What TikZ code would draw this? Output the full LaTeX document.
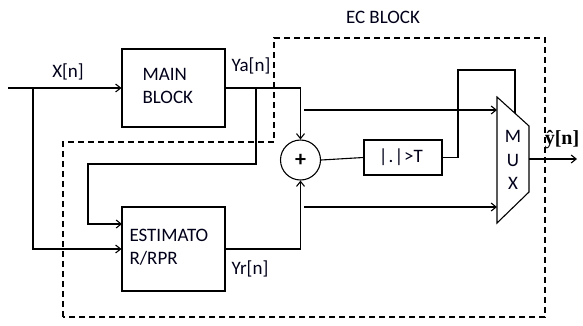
\documentclass[tikz,border=0pt]{standalone}
\usepackage{fontspec}
\setmainfont{Carlito}
\newfontfamily\hatfont{Liberation Serif}
\usetikzlibrary{arrows.meta}
\begin{document}
\begin{tikzpicture}[x=1pt,y=-1pt,line width=1.1pt,
  blk/.style={draw,minimum width=103pt,minimum height=84pt,inner sep=0pt},
  arr/.style={-{Straight Barb[length=5pt,width=8pt]}},
  lbl/.style={font=\fontsize{19}{23.5}\selectfont,inner sep=0pt,text=black!90!blue},
  ecdash/.style={dash pattern=on 6pt off 4pt,line width=1.3pt}]
\useasboundingbox (0,0) rectangle (583,325);
% blocks
\node[blk,minimum height=78pt] (main) at (173.5,88) {};
\node[lbl,anchor=west,align=left] (maint) at (142,86) {MAIN\\BLOCK};
\node[blk] (est) at (173.5,249) {};
\node[lbl,anchor=west,align=left] (estt) at (129,247) {ESTIMATO\\R/RPR};
\node[draw,circle,minimum size=40pt,inner sep=0pt] (add) at (300.5,160) {\fontsize{22}{22}\selectfont\bfseries +};
\node[draw,minimum width=78pt,minimum height=35pt,inner sep=0pt,lbl] (thr) at (403,157.5) {\kern-4pt|\kern1pt.\kern1pt|\kern1pt>T};
% mux
\coordinate (m1) at (497,97);
\coordinate (m2) at (529,126);
\coordinate (m3) at (529,192);
\coordinate (m4) at (497,223);
\draw (m1) -- (m2) -- (m3) -- (m4) -- cycle;
\node[lbl,align=center] (muxt) at (513,160) {M\\U\\X};
% labels
\node[lbl] (lx) at (68,72) {X[n]};
\node[lbl] (lya) at (251,66) {Ya[n]};
\node[lbl] (lyr) at (250,269) {Yr[n]};
\node[lbl] (lec) at (383,17) {EC BLOCK};
\node[inner sep=0pt,font=\hatfont\bfseries\fontsize{20}{20}\selectfont] (lyh) at (562,140) {ŷ[n]};
% coordinates
\coordinate (in) at (8,88);
\coordinate (t1) at (33,88);
\coordinate (estin1) at (122,224);
\coordinate (t2) at (256,88);
\coordinate (k1) at (256,164);
\coordinate (k2) at (88,164);
\coordinate (u0) at (304,110);
\coordinate (u1) at (497,110);
\coordinate (l0) at (304,207);
\coordinate (l1) at (497,207);
\coordinate (s1) at (458,157.5);
\coordinate (s2) at (458,70);
\coordinate (s3) at (515,70);
\coordinate (msel) at (515,113);
\coordinate (mout) at (529,159);
\coordinate (yout) at (577,159);
% connectors
\draw[arr] (in) -- (main.west);
\draw[arr] (t1) |- (est.west);
\draw[arr] (main.east) -| (add.north);
\draw[arr] (t2) -- (k1) -- (k2) |- (estin1);
\draw[arr] (est.east) -| (add.south);
\draw[arr] (u0) -- (u1);
\draw[arr] (l0) -- (l1);
\draw (add.east) -- (thr.west);
\draw (thr.east) -- (s1) -- (s2) -- (s3) -- (msel);
\draw[arr] (mout) -- (yout);
% EC block boundary
\draw[ecdash] (63,317) -- (63,142) -- (274,142) -- (274,38) -- (545,38) -- (545,317) -- cycle;
\end{tikzpicture}
\end{document}
